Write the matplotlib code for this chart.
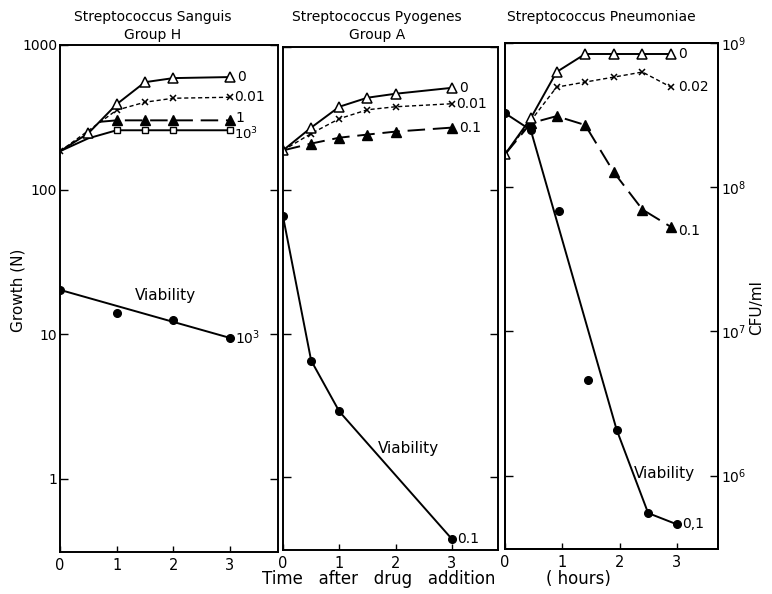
import matplotlib
matplotlib.use("Agg")
import matplotlib.pyplot as plt
from matplotlib.ticker import FixedLocator, NullLocator, FixedFormatter

plt.rcParams['font.family'] = ['DejaVu Sans']
plt.rcParams['font.size'] = 10

# ---------------- data ----------------
# Panel 1: Streptococcus Sanguis, Group H
sang_t = [0, 0.5, 1, 1.5, 2, 3]
sang_0 = [184, 245, 389, 553, 590, 600]
sang_001_t = [0, 1, 1.5, 2, 3]
sang_001 = [184, 354, 402, 428, 435]
sang_1_t = [0.7, 1, 1.5, 2, 3]
sang_1 = [294, 301, 301, 301, 301]
sang_1e3_t = [0, 0.5, 1, 1.5, 2, 3]
sang_1e3 = [184, 226, 257, 257, 257, 257]
sang_via_t = [0, 1, 2, 3]
sang_via = [20.2, 14.0, 12.5, 9.4]

# Panel 2: Streptococcus Pyogenes, Group A
pyo_t = [0, 0.5, 1, 1.5, 2, 3]
pyo_0 = [190, 274, 383, 443, 472, 519]
pyo_001 = [190, 249, 316, 365, 383, 402]
pyo_01 = [190, 212, 233, 245, 257, 274]
pyo_via_t = [0, 0.5, 1, 3]
pyo_via = [65.9, 6.5, 2.87, 0.37]

# Panel 3: Streptococcus Pneumoniae
pne_t = [0, 0.45, 0.9, 1.4, 1.9, 2.4, 2.9]
pne_0 = [169, 301, 629, 839, 839, 839, 839]
pne_002_t = [0, 0.9, 1.4, 1.9, 2.4, 2.9]
pne_002 = [169, 494, 536, 580, 629, 494]
pne_01 = [169, 278, 311, 270, 127, 70, 53]
pne_via_t = [0, 0.45, 0.95, 1.45, 1.95, 2.5, 3.0]
pne_via_cfu = [3.26e8, 2.49e8, 6.8e7, 4.57e6, 2.08e6, 5.5e5, 4.6e5]
pne_via_line_idx = [0, 1, 4, 5, 6]

growth_ticks = [1, 10, 100, 1000]
growth_labels = ["1", "10", "100", "1000"]
cfu_ticks = [1e6, 1e7, 1e8, 1e9]
cfu_labels = [r"$10^6$", r"$10^7$", r"$10^8$", r"$10^9$"]
xticks = [0, 1, 2, 3]

# ---------------- figure ----------------
W, H = 772, 594
fig = plt.figure(figsize=(W / 100, H / 100), dpi=100)


def axes_px(left, top, right, bottom):
    return fig.add_axes([left / W, 1 - bottom / H, (right - left) / W, (bottom - top) / H])


ax1 = axes_px(60, 45, 278, 552)
ax2 = axes_px(283, 47, 498, 550)
ax3 = axes_px(505, 43, 718, 549)

YLIM = (0.31, 1000)
for ax, xr in [(ax1, 3.85), (ax2, 3.82), (ax3, 3.72)]:
    ax.set_yscale('log')
    ax.set_ylim(*YLIM)
    ax.set_xlim(0, xr)
    ax.yaxis.set_major_locator(FixedLocator(growth_ticks))
    ax.yaxis.set_minor_locator(NullLocator())
    ax.xaxis.set_major_locator(FixedLocator(xticks))
    ax.xaxis.set_minor_locator(NullLocator())
    ax.tick_params(axis='y', direction='in', length=6, width=1.0, left=True, right=True)
    ax.tick_params(axis='x', direction='in', length=4, width=1.0, top=False, labelsize=10.5, pad=4)
    for s in ax.spines.values():
        s.set_linewidth(1.4)

ax1.yaxis.set_major_formatter(FixedFormatter(growth_labels))
ax1.tick_params(axis='y', labelsize=10, pad=2)
ax2.set_yticklabels([])
ax3.set_yticklabels([])
ax3.tick_params(axis='y', right=False)

ax3r = ax3.twinx()
ax3r.set_yscale('log')
ax3r.set_ylim(YLIM[0] * 1e6, YLIM[1] * 1e6)
ax3r.yaxis.set_major_locator(FixedLocator(cfu_ticks))
ax3r.yaxis.set_minor_locator(NullLocator())
ax3r.yaxis.set_major_formatter(FixedFormatter(cfu_labels))
ax3r.tick_params(axis='y', direction='in', length=6, width=1.0, labelsize=10, pad=2)
for s in ax3r.spines.values():
    s.set_linewidth(1.4)

K = 'black'
LW = 1.4
open_tri = dict(marker='^', ms=7, mfc='white', mec=K, mew=1.1)
filled_tri = dict(marker='^', ms=7, mfc=K, mec=K)
xmark = dict(marker='x', ms=5, mec=K, mew=1.1)
sq = dict(marker='s', ms=5, mfc='white', mec=K, mew=1.0)
circ = dict(marker='o', ms=5.5, mfc=K, mec=K)
short_dash = (0, (3, 2))
long_dash = (0, (9, 4))


def endlabel(ax, x, y, s, dx=5, dy=0, fs=10):
    ax.annotate(s, xy=(x, y), xytext=(dx, dy), textcoords='offset points',
                va='center', ha='left', fontsize=fs)


# ---- Panel 1
ax1.plot(sang_1e3_t, sang_1e3, color=K, lw=LW, markevery=[2, 3, 4, 5], **sq)
ax1.plot(sang_1_t, sang_1, color=K, lw=LW, ls=long_dash, markevery=[1, 2, 3, 4], **filled_tri)
ax1.plot(sang_001_t, sang_001, color=K, lw=1.0, ls=short_dash, **xmark)
ax1.plot(sang_t, sang_0, color=K, lw=LW, markevery=[1, 2, 3, 4, 5], **open_tri)
ax1.plot([sang_via_t[0], sang_via_t[-1]], [sang_via[0], sang_via[-1]], color=K, lw=LW)
ax1.plot(sang_via_t, sang_via, ls='none', **circ)
endlabel(ax1, sang_t[-1], sang_0[-1], "0")
endlabel(ax1, sang_001_t[-1], sang_001[-1], "0.01", dx=3)
endlabel(ax1, sang_1_t[-1], sang_1[-1], "1", dx=4, dy=2)
endlabel(ax1, sang_1e3_t[-1], sang_1e3[-1], r"10$^3$", dx=3, dy=-3, fs=9.5)
endlabel(ax1, sang_via_t[-1], sang_via[-1], r"10$^3$", dx=4)
ax1.text(1.87, 18.4, "Viability", ha='center', va='center', fontsize=11)

# ---- Panel 2
ax2.plot(pyo_t, pyo_01, color=K, lw=LW, ls=long_dash, markevery=[1, 2, 3, 4, 5], **filled_tri)
ax2.plot(pyo_t, pyo_001, color=K, lw=1.0, ls=short_dash, markevery=[1, 2, 3, 4, 5], **xmark)
ax2.plot(pyo_t, pyo_0, color=K, lw=LW, **open_tri)
ax2.plot(pyo_via_t, pyo_via, color=K, lw=LW, **circ)
endlabel(ax2, pyo_t[-1], pyo_0[-1], "0")
endlabel(ax2, pyo_t[-1], pyo_001[-1], "0.01", dx=3)
endlabel(ax2, pyo_t[-1], pyo_01[-1], "0.1")
endlabel(ax2, pyo_via_t[-1], pyo_via[-1], "0.1", dx=4)
ax2.text(2.23, 1.59, "Viability", ha='center', va='center', fontsize=11)

# ---- Panel 3
ax3.plot(pne_t, pne_01, color=K, lw=LW, ls=long_dash, markevery=[1, 2, 3, 4, 5, 6], **filled_tri)
ax3.plot(pne_002_t, pne_002, color=K, lw=1.0, ls=short_dash, markevery=[1, 2, 3, 4, 5], **xmark)
ax3.plot(pne_t, pne_0, color=K, lw=LW, **open_tri)
ax3r.plot([pne_via_t[i] for i in pne_via_line_idx], [pne_via_cfu[i] for i in pne_via_line_idx],
          color=K, lw=LW)
ax3r.plot(pne_via_t, pne_via_cfu, ls='none', **circ)
endlabel(ax3, pne_t[-1], pne_0[-1], "0")
endlabel(ax3, pne_002_t[-1], pne_002[-1], "0.02")
endlabel(ax3, pne_t[-1], pne_01[-1], "0.1", dy=-3)
endlabel(ax3r, pne_via_t[-1], pne_via_cfu[-1], "0,1", dx=4)
ax3r.text(2.78, 1.03e6, "Viability", ha='center', va='center', fontsize=11)

# ---- titles and axis labels
fig.text(153 / W, 1 - 17 / H, "Streptococcus Sanguis", ha='center', va='center', fontsize=10)
fig.text(153 / W, 1 - 35 / H, "Group H", ha='center', va='center', fontsize=10)
fig.text(377 / W, 1 - 17 / H, "Streptococcus Pyogenes", ha='center', va='center', fontsize=10)
fig.text(377 / W, 1 - 35 / H, "Group A", ha='center', va='center', fontsize=10)
fig.text(601 / W, 1 - 17 / H, "Streptococcus Pneumoniae", ha='center', va='center', fontsize=10)
fig.text(18 / W, 1 - 290 / H, "Growth (N)", rotation=90, ha='center', va='center', fontsize=11)
fig.text(757 / W, 1 - 308 / H, "CFU/ml", rotation=90, ha='center', va='center', fontsize=11)
fig.text(379 / W, 1 - 584 / H, "Time   after   drug   addition", ha='center', va='baseline',
         fontsize=12)
fig.text(578 / W, 1 - 584 / H, "( hours)", ha='center', va='baseline', fontsize=12)

fig.savefig("out.png", dpi=100)
